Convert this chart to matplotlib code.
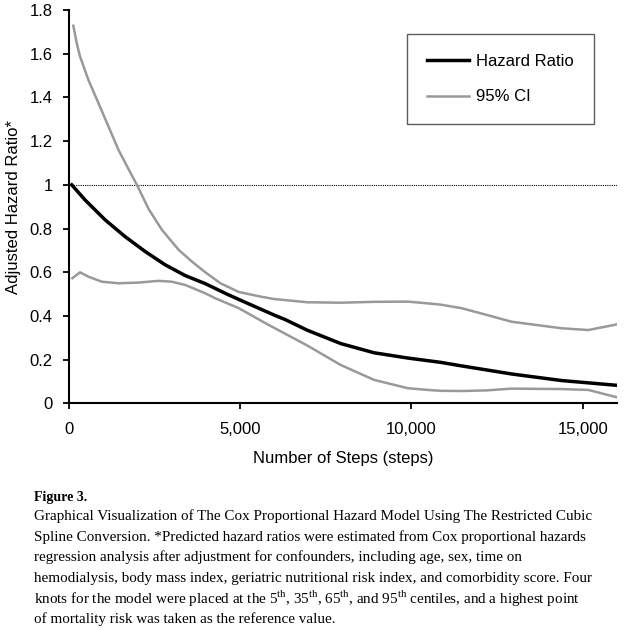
import numpy as np
import matplotlib
matplotlib.use("Agg")
import matplotlib.pyplot as plt

plt.rcParams['font.family'] = ['Liberation Sans', 'DejaVu Sans']
plt.rcParams['mathtext.fontset'] = 'custom'
plt.rcParams['mathtext.rm'] = 'Liberation Serif'

# values
hr_x = [94, 482, 1067, 1652, 2237, 2822, 3406, 3990, 4625, 4965, 5600, 5990,
        6330, 6965, 7940, 8910, 9890, 10860, 11460, 12920, 14380, 16000]
hr_y = [1.0, 0.931, 0.840, 0.763, 0.695, 0.634, 0.585, 0.548, 0.500, 0.476,
        0.432, 0.405, 0.383, 0.335, 0.274, 0.232, 0.208, 0.188, 0.172, 0.135,
        0.105, 0.083]

up_x = [140, 240, 336, 580, 872, 1165, 1457, 1750, 1994, 2335, 2725, 3211, 3600,
        3990, 4430, 4965, 5600, 5990, 6965, 7940, 8910, 9890, 10480, 10860, 11460,
        12200, 12920, 14380, 15160, 16000]
up_y = [1.728, 1.648, 1.587, 1.480, 1.374, 1.267, 1.160, 1.072, 1.0, 0.890, 0.794,
        0.703, 0.649, 0.600, 0.550, 0.510, 0.489, 0.478, 0.463, 0.461, 0.465, 0.466,
        0.458, 0.452, 0.436, 0.405, 0.374, 0.344, 0.336, 0.362]

lo_x = [111, 336, 580, 971, 1457, 2041, 2626, 3017, 3406, 3990, 4284, 4965, 5746,
        6965, 7940, 8910, 9890, 10480, 10860, 11460, 12200, 12920, 14380, 15160, 16000]
lo_y = [0.573, 0.600, 0.580, 0.557, 0.550, 0.553, 0.561, 0.557, 0.542, 0.504,
        0.481, 0.436, 0.367, 0.265, 0.176, 0.108, 0.070, 0.062, 0.058, 0.057,
        0.060, 0.068, 0.066, 0.062, 0.028]

fig = plt.figure(figsize=(6.27, 6.28), dpi=100)
ax = fig.add_axes([0.1093, 0.3575, 0.875, 0.6266])

ax.axhline(1.0, color='black', lw=0.8, ls=(0, (1, 1)))
ax.plot(lo_x, lo_y, color='#999999', lw=1.8)
ax.plot(up_x, up_y, color='#999999', lw=1.8, label='95% CI')
ax.plot(hr_x, hr_y, color='black', lw=2.5, label='Hazard Ratio')

ax.set_xlim(0, 16000)
ax.set_ylim(0, 1.8)
ax.set_xticks([0, 5000, 10000, 15000])
ax.set_xticklabels(['0', '5,000', '10,000', '15,000'])
ax.set_yticks([0, 0.2, 0.4, 0.6, 0.8, 1.0, 1.2, 1.4, 1.6, 1.8])
ax.set_yticklabels(['0', '0.2', '0.4', '0.6', '0.8', '1', '1.2', '1.4', '1.6', '1.8'])
ax.tick_params(labelsize=12, width=1.3, length=4.5, direction='out')
ax.tick_params(axis='x', pad=9)
ax.tick_params(axis='y', pad=7)
for s in ['top', 'right']:
    ax.spines[s].set_visible(False)
for s in ['left', 'bottom']:
    ax.spines[s].set_linewidth(1.5)

ax.set_xlabel('Number of Steps (steps)', fontsize=12, labelpad=10)
ax.set_ylabel('Adjusted Hazard Ratio*', fontsize=12, labelpad=6)

h, l = ax.get_legend_handles_labels()
leg = ax.legend(h[::-1], l[::-1], loc='upper right', bbox_to_anchor=(0.958, 0.94),
                fontsize=12, frameon=True, fancybox=False, edgecolor='#333333',
                handlelength=2.5, handletextpad=0.45, labelspacing=1.25,
                borderpad=1.2, borderaxespad=0)
leg.get_frame().set_linewidth(1.0)

cap = ["Graphical Visualization of The Cox Proportional Hazard Model Using The Restricted Cubic",
       "Spline Conversion. *Predicted hazard ratios were estimated from Cox proportional hazards",
       "regression analysis after adjustment for confounders, including age, sex, time on",
       "hemodialysis, body mass index, geriatric nutritional risk index, and comorbidity score. Four",
       r"knots for the model were placed at the 5$^{\rm th}$, 35$^{\rm th}$, 65$^{\rm th}$, and 95$^{\rm th}$ centiles, and a highest point",
       "of mortality risk was taken as the reference value."]
fig.text(34 / 627, 1 - 497 / 628, 'Figure 3.', family='Liberation Serif', weight='bold',
         fontsize=10, va='center')
for i, line in enumerate(cap):
    fig.text(34 / 627, 1 - (516 + i * 20.7) / 628, line, family='Liberation Serif',
             fontsize=10.9, va='center')

fig.savefig('out.png', dpi=100)
